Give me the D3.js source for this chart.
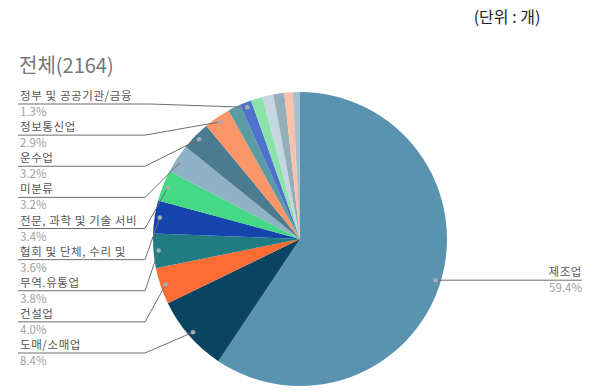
<!DOCTYPE html>
<html>
<head>
<meta charset="utf-8">
<script src="https://cdn.jsdelivr.net/npm/d3@7"></script>
<style>
  body { margin: 0; background: #fff; }
  text { font-family: "Noto Sans CJK KR", "Liberation Sans", sans-serif; }
</style>
</head>
<body>
<svg id="chart" width="594" height="392"></svg>
<script>
// 업종별 개수 (전체 2164)
const categories = ['제조업', '도매/소매업', '건설업', '무역.유통업', '협회 및 단체, 수리 및',
  '전문, 과학 및 기술 서비', '미분류', '운수업', '정보통신업', '기타1', '정부 및 공공기관/금융',
  '기타2', '기타3', '기타4', '기타5', '기타6'];
const counts = [1285, 182, 87, 82, 78, 74, 69, 69, 63, 30, 28, 28, 26, 26, 20, 17];
const colors = ['#5a93b0', '#0b4462', '#fd6c33', '#217b83', '#1544ad', '#45d985', '#8eb1c5',
  '#4a7b8f', '#fc9568', '#5b9ca4', '#4f73cd', '#8be3aa', '#c4d6df', '#94aeba', '#fdc1a7', '#a6c2d0'];
// 라벨 보이는 조각 (왼쪽 라벨 순서: 아래 -> 위)
const leftLabeled = [1, 2, 3, 4, 5, 6, 7, 8, 10];

const total = d3.sum(counts);
const data = categories.map((c, i) => ({ name: c, value: counts[i], color: colors[i], idx: i }));

const svg = d3.select('#chart');
const cx = 300, cy = 239, R = 147;

svg.append('text').attr('x', 507).attr('y', 23).attr('text-anchor', 'middle')
  .attr('font-size', 16).attr('fill', '#222').text('(단위 : 개)');
svg.append('text').attr('x', 19).attr('y', 73)
  .attr('font-size', 20).attr('fill', '#767676').text('전체(' + total + ')');

const pie = d3.pie().sort(null).value(d => d.value);
const arcs = pie(data);
const arc = d3.arc().innerRadius(0).outerRadius(R);

const g = svg.append('g').attr('transform', `translate(${cx},${cy})`);
g.selectAll('path').data(arcs).enter().append('path')
  .attr('d', arc).attr('fill', d => d.data.color);

const pct = v => (v / total * 100).toFixed(1) + '%';
const dotPos = a => {
  const m = (a.startAngle + a.endAngle) / 2;
  return [cx + Math.sin(m) * R * 0.965, cy - Math.cos(m) * R * 0.965];
};

const lab = svg.append('g');
// 오른쪽 라벨 (제조업)
{
  const a = arcs[0];
  const [dx, dy] = dotPos(a);
  lab.append('line').attr('x1', dx).attr('y1', dy).attr('x2', 582).attr('y2', dy)
    .attr('stroke', '#6e6e6e').attr('stroke-width', 1);
  lab.append('circle').attr('cx', dx).attr('cy', dy).attr('r', 2.3).attr('fill', '#a3adb3');
  lab.append('text').attr('x', 582).attr('y', dy - 4).attr('text-anchor', 'end')
    .attr('font-size', 11.5).attr('letter-spacing', 0.6).attr('fill', '#555').text(a.data.name);
  lab.append('text').attr('x', 582).attr('y', dy + 12).attr('text-anchor', 'end')
    .attr('font-size', 11.5).attr('fill', '#9e9e9e').text(pct(a.data.value));
}

// 왼쪽 라벨
const lineY = d3.scaleLinear().domain([0, leftLabeled.length - 1]).range([353, 104]);
leftLabeled.forEach((k, j) => {
  const a = arcs[k];
  const [dx, dy] = dotPos(a);
  const ly = lineY(j);
  const bend = k === 10 ? 150 : 145;
  lab.append('polyline')
    .attr('points', `18,${ly} ${bend},${ly} ${dx},${dy}`)
    .attr('fill', 'none').attr('stroke', '#6e6e6e').attr('stroke-width', 1);
  lab.append('circle').attr('cx', dx).attr('cy', dy).attr('r', 2.3).attr('fill', '#a3adb3');
  lab.append('text').attr('x', 20).attr('y', ly - 4)
    .attr('font-size', 11.5).attr('letter-spacing', 0.6).attr('fill', '#555').text(a.data.name);
  lab.append('text').attr('x', 20).attr('y', ly + 12)
    .attr('font-size', 11.5).attr('fill', '#9e9e9e').text(pct(a.data.value));
});
</script>
</body>
</html>
